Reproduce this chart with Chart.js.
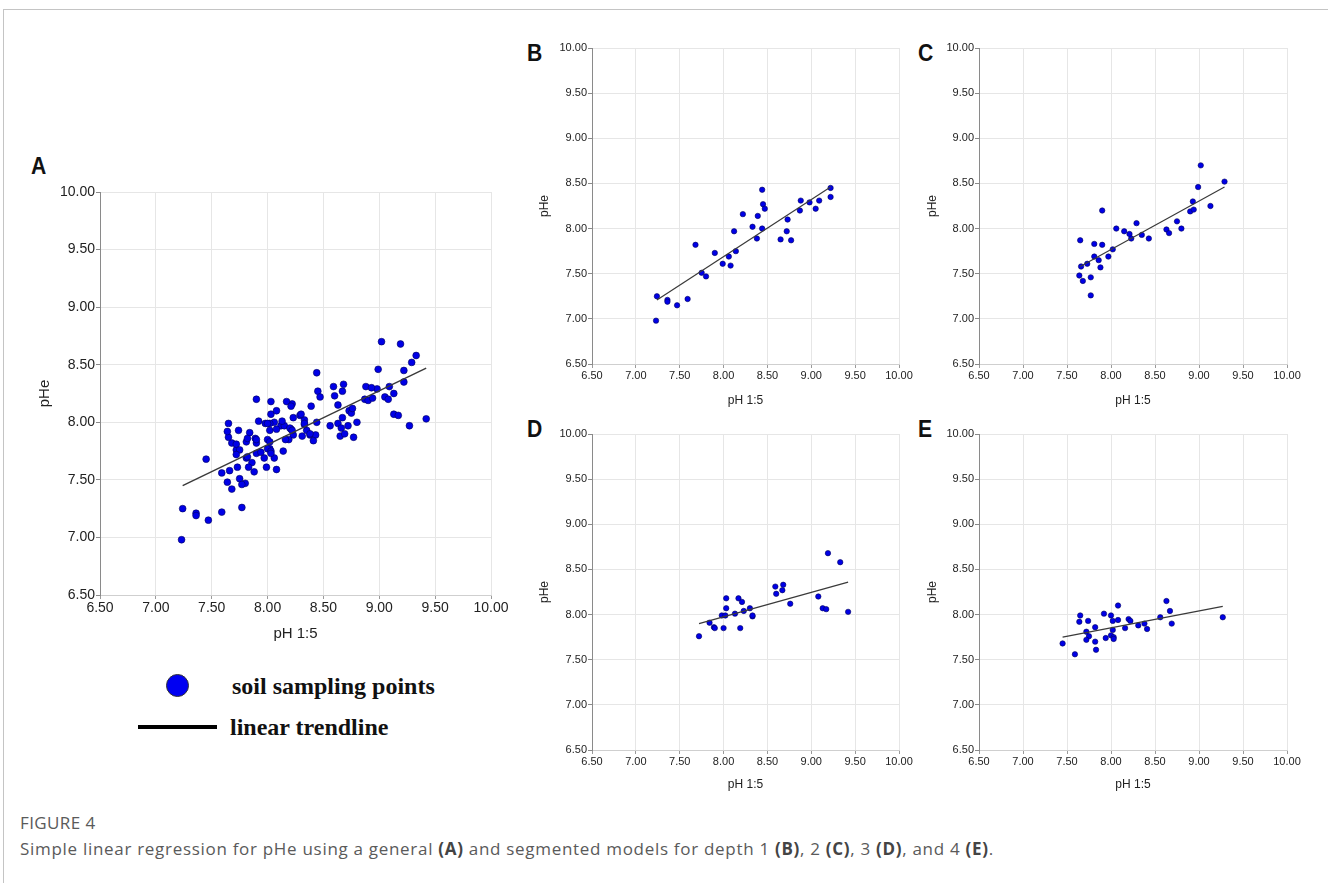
<!DOCTYPE html>
<html>
<head>
<meta charset="utf-8">
<title>pHe vs pH 1:5</title>
<script src="https://cdn.jsdelivr.net/npm/chart.js@4.4.1/dist/chart.umd.min.js"></script>
<style>
  html, body { margin: 0; padding: 0; background: #fff; }
  body { width: 1328px; height: 883px; position: relative; overflow: hidden;
         font-family: "Liberation Sans", Arial, sans-serif; }
  .frame { position: absolute; left: 3px; top: 9px; width: 1400px; height: 1000px;
           border-top: 1px solid #c4c4c4; border-left: 1px solid #c4c4c4; }
  canvas { position: absolute; }
  .tag { position: absolute; font: bold 23px "Liberation Sans", Arial, sans-serif; color: #111;
         line-height: 1; transform: scaleX(0.92); transform-origin: left top; }
  .key-dot { position: absolute; left: 166px; top: 674px; width: 23px; height: 23px;
             border-radius: 50%; background: #0000f2; border: 1px solid #333; box-sizing: border-box; }
  .key-line { position: absolute; left: 138px; top: 725px; width: 79px; height: 4px; background: #000; }
  .key-text { position: absolute; font: bold 24px "Liberation Serif", "Times New Roman", serif;
              color: #111; line-height: 1; white-space: nowrap; }
  .cap-head { position: absolute; left: 20px; top: 811px; font: 17px "Open Sans", sans-serif;
              color: #5a5a5a; letter-spacing: 0.4px; white-space: nowrap; }
  .cap-text { position: absolute; left: 20px; top: 837px; font: 17px "Open Sans", sans-serif;
              color: #5a5a5a; letter-spacing: 0.7px; white-space: nowrap; }
  .cap-text b { font-weight: 700; color: #444; }
</style>
</head>
<body>
<div class="frame"></div>

<div class="tag" style="left:31px;top:155px;">A</div>
<div class="tag" style="left:527px;top:42px;">B</div>
<div class="tag" style="left:918px;top:42px;">C</div>
<div class="tag" style="left:527px;top:418px;">D</div>
<div class="tag" style="left:918px;top:418px;">E</div>

<canvas id="chartA"></canvas>
<canvas id="chartB"></canvas>
<canvas id="chartC"></canvas>
<canvas id="chartD"></canvas>
<canvas id="chartE"></canvas>

<div class="key-dot"></div>
<div class="key-text" style="left:232px;top:674px;">soil sampling points</div>
<div class="key-line"></div>
<div class="key-text" style="left:230px;top:715px;">linear trendline</div>

<div class="cap-head">FIGURE 4</div>
<div class="cap-text">Simple linear regression for pHe using a general <b>(A)</b> and segmented models for depth 1 <b>(B)</b>, 2 <b>(C)</b>, 3 <b>(D)</b>, and 4 <b>(E)</b>.</div>

<script>
// Soil samples: [pH 1:5, pHe] per sampling depth
const depth1 = [
  [7.24, 7.25], [7.23, 6.98], [7.36, 7.21], [7.36, 7.19], [7.47, 7.15], [7.59, 7.22],
  [7.68, 7.82], [7.75, 7.51], [7.80, 7.47], [7.90, 7.73], [7.99, 7.61], [8.08, 7.59],
  [8.06, 7.69], [8.12, 7.97], [8.14, 7.75], [8.44, 8.43], [8.22, 8.16], [8.33, 8.02],
  [8.39, 8.14], [8.38, 7.89], [8.44, 8.00], [8.45, 8.27], [8.47, 8.22], [8.65, 7.88],
  [8.72, 7.97], [8.73, 8.10], [8.77, 7.87], [8.87, 8.20], [8.88, 8.31], [8.98, 8.29],
  [9.05, 8.22], [9.09, 8.31], [9.22, 8.35], [9.22, 8.45]
];
const depth2 = [
  [7.65, 7.87], [7.66, 7.58], [7.64, 7.48], [7.68, 7.42], [7.73, 7.61], [7.77, 7.46],
  [7.77, 7.26], [7.81, 7.83], [7.81, 7.69], [7.86, 7.65], [7.88, 7.57], [7.90, 8.20],
  [7.90, 7.82], [7.97, 7.69], [8.02, 7.77], [8.06, 8.00], [8.15, 7.97], [8.21, 7.94],
  [8.23, 7.89], [8.29, 8.06], [8.35, 7.93], [8.43, 7.89], [8.63, 7.99], [8.66, 7.95],
  [8.75, 8.08], [8.80, 8.00], [8.90, 8.19], [8.94, 8.21], [8.93, 8.30], [8.99, 8.46],
  [9.02, 8.70], [9.13, 8.25], [9.29, 8.52]
];
const depth3 = [
  [7.72, 7.76], [7.84, 7.91], [7.89, 7.86], [7.90, 7.85], [8.00, 7.85], [7.98, 7.99],
  [8.02, 7.99], [8.03, 8.07], [8.03, 8.18], [8.13, 8.01], [8.17, 8.18], [8.21, 8.14],
  [8.19, 7.85], [8.23, 8.04], [8.30, 8.07], [8.33, 7.98], [8.33, 7.99], [8.59, 8.31],
  [8.60, 8.23], [8.67, 8.27], [8.68, 8.33], [8.76, 8.12], [9.08, 8.20], [9.13, 8.07],
  [9.17, 8.06], [9.19, 8.68], [9.33, 8.58], [9.42, 8.03]
];
const depth4 = [
  [7.45, 7.68], [7.59, 7.56], [7.65, 7.99], [7.64, 7.92], [7.72, 7.81], [7.74, 7.93],
  [7.75, 7.76], [7.72, 7.72], [7.82, 7.86], [7.82, 7.70], [7.83, 7.61], [7.92, 8.01],
  [7.94, 7.74], [8.00, 7.99], [8.02, 7.93], [8.02, 7.83], [8.00, 7.77], [8.03, 7.75],
  [8.03, 7.73], [8.08, 8.10], [8.08, 7.94], [8.16, 7.85], [8.20, 7.95], [8.22, 7.93],
  [8.31, 7.88], [8.38, 7.90], [8.41, 7.84], [8.56, 7.97], [8.63, 8.15], [8.67, 8.04],
  [8.69, 7.90], [9.27, 7.97]
];
// The general model pools every depth
const allDepths = [...depth1, ...depth2, ...depth3, ...depth4];

// Fitted trendline end points [pH 1:5, pHe]
const trendAll = [[7.24, 7.45], [9.42, 8.47]];
const trend1 = [[7.24, 7.21], [9.22, 8.46]];
const trend2 = [[7.65, 7.58], [9.29, 8.46]];
const trend3 = [[7.72, 7.90], [9.42, 8.36]];
const trend4 = [[7.45, 7.75], [9.27, 8.09]];

// Shared axis range for all panels
const axisMin = 6.5;
const axisMax = 10.0;
const axisStep = 0.5;
const xTitle = 'pH 1:5';
const yTitle = 'pHe';

const FONT = '"Liberation Sans", Arial, sans-serif';

function toXY(pairs) { return pairs.map(p => ({ x: p[0], y: p[1] })); }

// area = desired plot rectangle on the page; yw/xh = reserved axis band sizes
const panels = [
  { id: 'chartA', pts: allDepths, trend: trendAll, area: { l: 100, t: 192, r: 491, b: 595 },
    yw: 64, xh: 48, tick: 14, title: 15, radius: 3.4 },
  { id: 'chartB', pts: depth1, trend: trend1, area: { l: 592, t: 48, r: 899, b: 364 },
    yw: 55, xh: 44, tick: 11, title: 12, radius: 2.7 },
  { id: 'chartC', pts: depth2, trend: trend2, area: { l: 979, t: 48, r: 1287, b: 364 },
    yw: 54, xh: 44, tick: 11, title: 12, radius: 2.7 },
  { id: 'chartD', pts: depth3, trend: trend3, area: { l: 592, t: 434, r: 899, b: 750 },
    yw: 55, xh: 42, tick: 11, title: 12, radius: 2.7 },
  { id: 'chartE', pts: depth4, trend: trend4, area: { l: 979, t: 434, r: 1287, b: 750 },
    yw: 54, xh: 42, tick: 11, title: 12, radius: 2.7 }
];

const PAD_T = 12, PAD_R = 24;

panels.forEach(p => {
  const a = p.area;
  const left = a.l - p.yw;
  const top = a.t - PAD_T;
  const width = a.r + PAD_R - left;
  const height = a.b + p.xh - top;
  const cv = document.getElementById(p.id);
  cv.style.left = left + 'px';
  cv.style.top = top + 'px';
  cv.width = width;
  cv.height = height;

  new Chart(cv, {
    type: 'scatter',
    data: {
      datasets: [
        {
          label: 'linear trendline',
          data: toXY(p.trend),
          showLine: true,
          pointRadius: 0,
          borderColor: '#3a3a3a',
          borderWidth: p.id === 'chartA' ? 1.4 : 1.2,
          fill: false
        },
        {
          label: 'soil sampling points',
          data: toXY(p.pts),
          pointRadius: p.radius,
          pointBackgroundColor: '#0000e6',
          pointBorderColor: '#00005a',
          pointBorderWidth: 0.6
        }
      ]
    },
    options: {
      responsive: false,
      animation: false,
      devicePixelRatio: 1,
      layout: { padding: { left: 0, top: PAD_T, right: PAD_R, bottom: 0 } },
      plugins: { legend: { display: false }, tooltip: { enabled: false } },
      scales: {
        x: {
          type: 'linear',
          min: axisMin, max: axisMax,
          afterFit: s => { s.height = p.xh; },
          ticks: {
            stepSize: axisStep,
            callback: v => Number(v).toFixed(2),
            color: '#222',
            font: { family: FONT, size: p.tick },
            padding: 1,
            maxRotation: 0
          },
          grid: { color: '#e6e6e6', lineWidth: 1, tickLength: 4, tickColor: '#9a9a9a' },
          border: { color: '#cfcfcf', width: 1 },
          title: { display: true, text: xTitle, color: '#222',
                   font: { family: FONT, size: p.title }, padding: 0 }
        },
        y: {
          type: 'linear',
          min: axisMin, max: axisMax,
          afterFit: s => { s.width = p.yw; },
          ticks: {
            stepSize: axisStep,
            callback: v => Number(v).toFixed(2),
            color: '#222',
            font: { family: FONT, size: p.tick },
            padding: 1
          },
          grid: { color: '#e6e6e6', lineWidth: 1, tickLength: 4, tickColor: '#8a8a8a' },
          border: { color: '#8a8a8a', width: 1 },
          title: { display: true, text: yTitle, color: '#222',
                   font: { family: FONT, size: p.title }, padding: 0 }
        }
      }
    }
  });
});
</script>
</body>
</html>
